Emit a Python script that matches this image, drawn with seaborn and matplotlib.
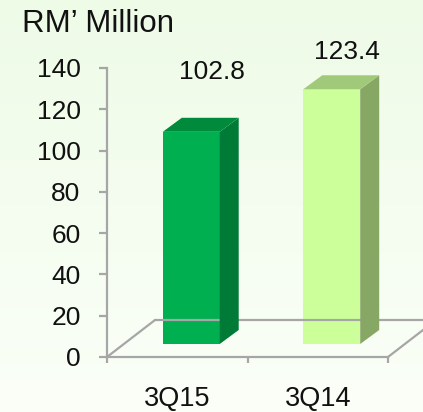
import numpy as np
import pandas as pd
import seaborn as sns
import matplotlib.pyplot as plt
from matplotlib.patches import Polygon
from matplotlib.transforms import offset_copy

quarters = ["3Q15", "3Q14"]
revenue = [102.8, 123.4]
yticks = [0, 20, 40, 60, 80, 100, 120, 140]
unit_label = "RM\u2019 Million"

front_colors = ["#00b050", "#ccff99"]
side_colors = ["#007a37", "#87a865"]
top_colors = ["#008a3c", "#a0c97a"]

df = pd.DataFrame({"quarter": quarters, "revenue": revenue})

sns.set_style("white")
plt.rcParams["font.family"] = ["Liberation Sans", "DejaVu Sans"]

W, H = 423, 412
fig = plt.figure(figsize=(W / 100, H / 100), dpi=100)

# soft green background gradient
bg = fig.add_axes([0, 0, 1, 1], zorder=-10)
grad = np.linspace(0, 1, 256).reshape(-1, 1)
top_c = np.array([0xee, 0xfb, 0xe7]) / 255
bot_c = np.array([0xfb, 0xff, 0xf8]) / 255
img = top_c + (bot_c - top_c) * grad[:, :, None]
bg.imshow(img, aspect="auto", extent=[0, 1, 0, 1])
bg.axis("off")

ax = fig.add_axes([107 / W, (H - 357) / H, (388 - 107) / W, (357 - 68) / H])
ax.patch.set_alpha(0)

sns.barplot(data=df, x="quarter", y="revenue", hue="quarter",
            palette=front_colors, width=0.405, legend=False, ax=ax,
            saturation=1, zorder=3)

ax.set_ylim(0, 140)
ax.set_xlim(-0.5, 1.5)
ax.set_yticks(yticks)
ax.set_xlabel("")
ax.set_ylabel("")

# 3D look: shift bars back, add side and top faces
shift = (14, 13)   # px
depth = (19, 14)   # px
for i, bar in enumerate(ax.patches):
    bar.set_transform(offset_copy(ax.transData, fig=fig, x=shift[0], y=shift[1], units="dots"))
    bar.set_edgecolor("none")
    x0, x1 = bar.get_x(), bar.get_x() + bar.get_width()
    h = bar.get_height()
    (ax0, ay0), (ax1, ay1) = ax.transData.transform([(x0, 0), (x1, h)])
    ax0 += shift[0]; ax1 += shift[0]; ay0 += shift[1]; ay1 += shift[1]
    dx, dy = depth
    side = Polygon([(ax1, ay0), (ax1 + dx, ay0 + dy), (ax1 + dx, ay1 + dy), (ax1, ay1)],
                   closed=True, transform=None, facecolor=side_colors[i], edgecolor="none", zorder=3)
    top = Polygon([(ax0, ay1), (ax0 + dx, ay1 + dy), (ax1 + dx, ay1 + dy), (ax1, ay1)],
                  closed=True, transform=None, facecolor=top_colors[i], edgecolor="none", zorder=3)
    fig.add_artist(side)
    fig.add_artist(top)

# floor
fx0, fy0 = ax.transData.transform((-0.5, 0))
fx1, _ = ax.transData.transform((1.5, 0))
fdx, fdy = 48, 37
floor_col = "#a6a6a6"
for xs, ys in [([fx0, fx0 + fdx], [fy0, fy0 + fdy]),
               ([fx0 + fdx, fx1 + fdx], [fy0 + fdy, fy0 + fdy]),
               ([fx1, fx1 + fdx], [fy0, fy0 + fdy])]:
    fig.add_artist(plt.Line2D(xs, ys, transform=None, color=floor_col, lw=1.6, zorder=1))

# value labels (offsets in px from the value point)
label_dx = [35, 29]
label_dy = [73, 50]
for i, val in enumerate(revenue):
    ax.annotate(f"{val:.1f}", (i, val),
                xytext=(label_dx[i] * 0.72, label_dy[i] * 0.72),
                textcoords="offset points", ha="center", va="center", fontsize=19,
                color="#111111", annotation_clip=False)

for s in ["top", "right"]:
    ax.spines[s].set_visible(False)
for s in ["left", "bottom"]:
    ax.spines[s].set_color(floor_col)
    ax.spines[s].set_linewidth(1.6)

ax.tick_params(axis="y", length=6, width=1.6, color=floor_col, pad=13, labelsize=19, left=True)
ax.tick_params(axis="x", which="major", length=0, pad=21, labelsize=19.5)
ax.set_xticks([-0.5, 0.5, 1.5], minor=True)
ax.tick_params(axis="x", which="minor", length=4, width=1.6, color=floor_col, bottom=True)
for t in ax.get_yticklabels() + ax.get_xticklabels():
    t.set_color("#111111")

fig.text(22 / W, 1 - 32 / H, unit_label, fontsize=22.5, color="#111111", va="baseline", ha="left")

fig.savefig("out.png", dpi=100)
